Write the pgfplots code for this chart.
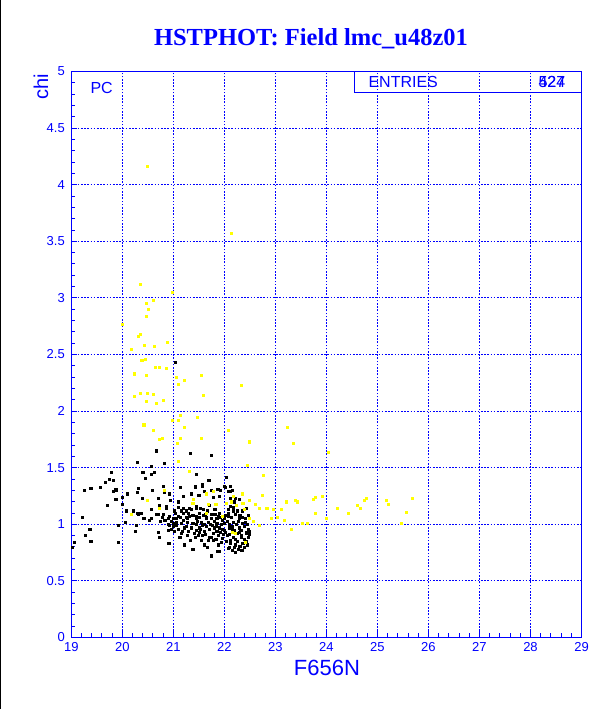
\documentclass[border=0pt]{standalone}
\usepackage{fontspec}
\setmainfont{Liberation Sans}
\newfontfamily\titlefont{Liberation Serif}
\usepackage{pgfplots}
\pgfplotsset{compat=1.18}
\definecolor{pblue}{RGB}{0,0,255}
\definecolor{pyellow}{RGB}{255,255,0}
\pgfplotstableread{
x y
21.03 2.43
20.66 1.65
21.33 1.63
21.75 1.61
20.29 1.55
20.57 1.51
20.82 1.54
19.79 1.46
20.40 1.46
20.62 1.46
20.56 1.44
20.45 1.41
19.75 1.40
19.82 1.39
19.67 1.37
22.03 1.42
21.68 1.39
21.43 1.33
21.14 1.33
20.81 1.34
20.32 1.32
19.87 1.31
19.38 1.32
19.56 1.33
19.25 1.30
19.83 1.29
19.88 1.30
19.99 1.24
20.09 1.27
20.39 1.23
20.58 1.30
20.70 1.23
20.92 1.27
21.19 1.25
21.51 1.26
21.57 1.34
21.75 1.30
21.78 1.24
21.92 1.30
21.99 1.34
22.12 1.34
22.12 1.29
22.16 1.30
22.22 1.23
22.29 1.22
19.71 1.17
19.99 1.18
19.21 1.06
20.08 1.12
20.22 1.12
20.57 1.13
20.86 1.14
20.30 1.10
20.36 1.10
20.52 1.04
20.57 1.05
20.42 1.05
20.81 1.09
20.90 1.05
20.99 1.05
20.70 1.09
20.79 1.06
21.09 1.15
21.19 1.10
21.25 1.12
21.35 1.13
21.44 1.14
21.52 1.14
21.03 1.10
21.06 1.05
21.13 1.06
21.25 1.06
21.31 1.07
21.44 1.05
21.51 1.06
21.62 1.09
21.64 1.05
21.74 1.05
21.81 1.09
21.92 1.06
21.99 1.05
22.07 1.07
22.14 1.06
22.22 1.09
22.29 1.05
22.34 1.06
19.36 0.96
19.28 0.90
19.38 0.85
19.06 0.84
19.01 0.80
19.92 0.99
19.92 0.84
20.27 0.99
20.25 0.94
20.70 0.93
20.73 0.89
20.90 0.83
20.92 0.99
20.99 0.98
21.06 0.99
21.01 0.94
20.96 0.96
21.16 0.92
21.27 0.90
21.13 0.89
21.22 0.82
21.42 0.89
21.51 0.93
21.57 0.90
21.64 0.98
21.61 0.82
21.66 0.80
21.75 0.89
21.79 0.92
21.83 0.87
21.88 0.82
21.86 0.76
22.03 0.85
21.90 0.97
21.96 0.96
22.01 0.93
22.09 0.91
22.07 0.79
22.12 0.83
22.17 0.89
22.22 0.82
22.26 0.85
22.33 0.89
22.36 0.83
22.34 0.77
22.42 0.92
22.46 0.89
21.74 0.72
21.78 0.86
21.35 0.97
21.44 1.00
21.51 0.97
21.57 0.99
21.70 0.96
21.77 0.99
22.09 0.97
22.16 0.98
22.29 0.97
22.39 0.98
22.46 0.96
21.44 1.44
21.42 1.34
21.56 1.35
21.70 1.39
21.35 1.27
21.49 1.26
21.60 1.29
21.87 1.31
21.90 1.25
22.01 1.33
22.07 1.29
22.11 1.23
22.03 1.19
22.12 1.16
22.20 1.20
22.17 1.12
22.07 1.13
20.94 1.21
21.09 1.20
20.86 1.16
21.01 1.12
21.19 1.14
21.31 1.14
21.44 1.16
21.58 1.13
21.70 1.17
21.81 1.13
21.90 1.10
20.92 1.07
21.09 1.07
21.27 1.05
21.44 1.07
21.65 1.06
21.88 1.07
21.96 1.04
21.18 0.94
21.53 0.96
21.70 0.96
21.84 0.98
22.00 0.95
22.16 0.96
22.29 0.93
22.05 0.90
22.12 0.86
22.22 0.87
22.33 0.90
22.42 0.93
22.20 0.80
22.30 0.81
21.33 0.86
21.49 0.90
21.70 0.89
21.88 0.90
21.12 0.89
20.92 0.83
21.94 0.84
21.90 0.76
21.75 0.73
21.38 0.78
20.29 1.28
20.82 1.28
19.87 1.22
20.73 1.17
20.31 1.09
20.05 1.02
20.75 1.03
20.83 1.04
20.67 1.09
20.90 1.00
20.90 0.95
21.05 1.02
21.15 1.01
21.22 0.97
21.28 1.02
21.38 1.01
21.47 1.03
21.55 1.02
21.60 1.00
21.68 1.02
21.72 1.00
21.80 1.03
21.85 1.01
21.93 1.00
22.00 1.01
22.05 1.03
22.10 1.00
22.18 1.02
22.24 1.00
22.28 1.03
22.35 1.01
22.40 1.02
22.44 1.00
22.20 0.95
22.25 0.92
22.32 0.95
22.38 0.87
22.43 0.85
22.48 0.91
22.48 0.94
22.27 0.78
22.22 0.75
22.15 0.77
22.10 0.80
22.38 0.80
22.45 0.82
21.95 0.88
21.98 0.91
21.92 0.93
21.85 0.94
21.80 0.97
21.60 0.94
21.63 0.91
21.68 0.86
21.55 0.86
21.45 0.95
21.40 0.92
21.30 0.94
21.25 0.98
21.20 1.04
21.10 0.96
21.00 1.01
20.95 1.03
21.58 1.08
21.75 1.09
21.85 1.05
22.02 1.08
22.08 1.10
22.25 1.12
22.30 1.08
22.18 1.15
21.67 1.12
21.50 1.10
21.38 1.08
21.30 1.10
21.15 1.12
22.35 1.12
22.40 1.05
22.47 1.08
22.42 1.14
}\blackdata
\pgfplotstableread{
x y
20.49 4.16
22.13 3.57
20.35 3.12
20.97 3.05
20.61 2.98
20.47 2.95
20.50 2.90
20.47 2.84
20.00 2.77
20.35 2.68
20.31 2.66
20.88 2.61
20.18 2.55
20.43 2.58
20.62 2.57
20.38 2.45
20.45 2.46
20.64 2.39
20.73 2.39
20.86 2.38
20.23 2.33
20.47 2.32
21.05 2.30
21.21 2.27
21.09 2.24
21.55 2.32
22.33 2.23
20.35 2.16
20.49 2.16
20.61 2.15
20.23 2.13
21.58 2.14
20.47 2.09
20.80 2.10
20.66 2.07
21.13 1.96
21.46 1.95
21.09 1.92
20.97 1.92
20.42 1.88
21.21 1.86
20.60 1.83
22.07 1.83
23.23 1.86
20.73 1.75
20.78 1.76
21.13 1.76
21.55 1.76
21.08 1.72
22.49 1.73
23.35 1.72
24.03 1.64
22.44 1.52
21.31 1.47
22.77 1.43
21.09 1.56
22.75 1.26
22.35 1.27
23.78 1.24
23.92 1.25
22.49 1.21
22.61 1.18
23.22 1.20
23.39 1.21
23.42 1.20
23.74 1.22
24.74 1.21
24.78 1.23
24.21 1.14
24.43 1.10
24.66 1.14
22.69 1.14
22.83 1.14
22.96 1.13
23.12 1.13
23.78 1.10
24.00 1.05
23.04 1.06
23.18 1.04
22.92 1.05
22.48 1.05
22.57 1.03
22.69 0.99
23.31 0.96
23.53 1.01
23.63 1.01
22.38 1.13
22.36 1.19
22.17 1.25
22.23 1.17
21.64 1.10
21.78 1.29
21.38 1.19
22.40 0.84
22.22 0.92
21.95 1.07
25.68 1.23
25.57 1.11
25.46 1.01
25.17 1.21
25.22 1.18
24.60 1.17
20.49 1.21
20.72 1.14
20.82 1.30
20.18 1.09
21.39 1.22
21.64 1.27
21.68 1.18
21.83 1.18
22.04 1.19
22.13 1.20
22.16 0.93
}\yellowdata
\begin{document}
\begin{tikzpicture}[x=1pt,y=1pt]
\path[use as bounding box, fill=white] (0,0) rectangle (612,709);
\draw[black, line width=2pt] (0,0) -- (0,709);
\begin{axis}[
  at={(71.3pt,71.5pt)}, anchor=south west, scale only axis,
  width=510.2pt, height=566pt,
  xmin=19, xmax=29, ymin=0, ymax=5,
  xtick={19,20,21,22,23,24,25,26,27,28,29},
  ytick={0,0.5,1,1.5,2,2.5,3,3.5,4,4.5,5},
  yticklabels={0,0.5,1,1.5,2,2.5,3,3.5,4,4.5,5},
  minor x tick num=4, minor y tick num=4,
  xtick pos=bottom, ytick pos=left, tick align=inside,
  major tick length=6pt, minor tick length=4pt,
  grid=major,
  major grid style={pblue, line width=1pt, dash pattern=on 1.6pt off 1.6pt},
  axis line style={pblue, line width=1.1pt},
  tick style={pblue, line width=0.9pt},
  ticklabel style={pblue, font=\fontsize{13}{13}\selectfont},
  /pgf/number format/assume math mode=true,
  yticklabel style={xshift=-3pt},
  xticklabel style={yshift=-1pt},
]
\addplot[only marks, color=black, mark=square*, mark size=1.05pt] table[x=x,y=y] {\blackdata};
\addplot[only marks, color=pyellow, mark=square*, mark size=1.05pt] table[x=x,y=y] {\yellowdata};
\end{axis}
\node[pblue, font=\titlefont\bfseries\fontsize{24.5}{24.5}\selectfont] at (311,670) {HSTPHOT: Field lmc\_u48z01};
\draw[pblue, line width=1pt] (354,616) rectangle (581.5,637.5);
\node[pblue, anchor=west, font=\fontsize{16}{16}\selectfont] at (365,627) {ENTRIES};
\node[pblue, anchor=west, font=\fontsize{16}{16}\selectfont] at (535,627) {524};
\node[pblue, anchor=west, font=\fontsize{16}{16}\selectfont] at (535,627) {427};
\node[pblue, anchor=west, font=\fontsize{16}{16}\selectfont] at (87,621) {PC};
\node[pblue, rotate=90, font=\fontsize{20}{20}\selectfont] at (41,622) {chi};
\node[pblue, font=\fontsize{22}{22}\selectfont] at (327,41) {F656N};
\end{tikzpicture}
\end{document}
